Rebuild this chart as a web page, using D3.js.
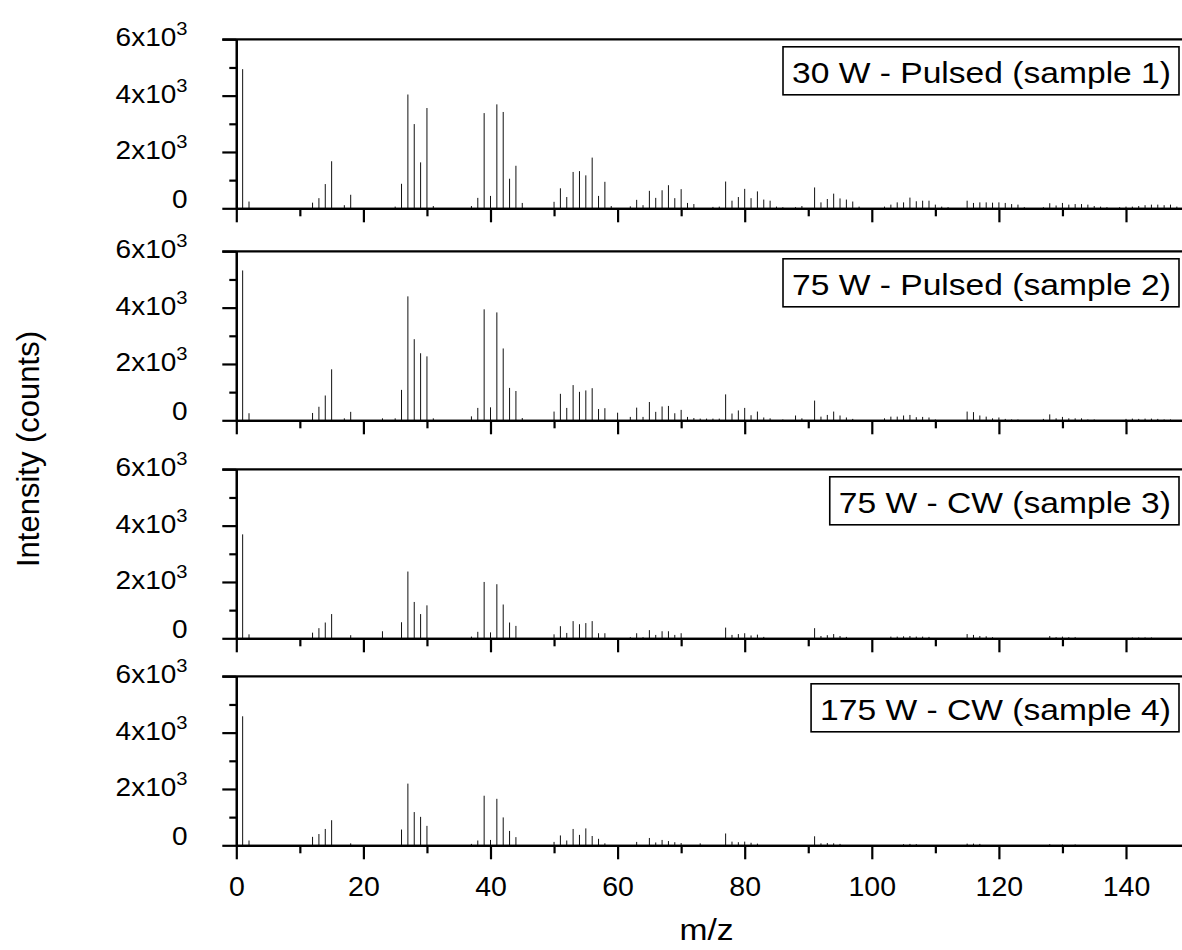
<!DOCTYPE html>
<html>
<head>
<meta charset="utf-8">
<script src="https://cdn.jsdelivr.net/npm/d3@7"></script>
<style>
  body { margin: 0; background: #fff; }
  svg { display: block; font-family: "Liberation Sans", Arial, sans-serif; }
</style>
</head>
<body>
<svg id="chart" width="1182" height="950"></svg>
<script>
// peak lists, [m/z, intensity in counts]
const sample1 = [[1,4940],[2,240],[12,200],[13,360],[14,860],[15,1670],[17,110],[18,480],[25,60],[26,870],[27,4040],[28,2990],[29,1630],[30,3560],[31,80],
  [37,80],[38,370],[39,3380],[40,440],[41,3690],[42,3420],[43,1050],[44,1510],[45,190],[50,230],[51,710],[52,400],[53,1290],[54,1320],[55,1170],[56,1800],[57,440],[58,940],[59,80],
  [62,70],[63,300],[64,110],[65,620],[66,370],[67,640],[68,820],[69,360],[70,680],[71,190],[72,150],[75,50],[76,60],[77,950],[78,270],[79,400],[80,690],[81,360],[82,600],[83,310],[84,270],[85,60],[86,40],
  [88,40],[89,80],[91,740],[92,210],[93,330],[94,520],[95,350],[96,310],[97,240],[98,60],[102,60],[103,130],[104,210],[105,210],[106,380],[107,250],[108,270],[109,270],[110,130],[111,60],[112,40],
  [115,270],[116,190],[117,210],[118,210],[119,200],[120,210],[121,190],[122,150],[123,130],[124,40],[127,40],[128,180],[129,100],[130,190],[131,130],[132,150],[133,150],[134,130],[135,80],[136,60],[137,40],
  [139,40],[140,60],[141,60],[142,80],[143,110],[144,130],[145,130],[146,110],[147,130],[148,60]];

const sample2 = [[1,5320],[2,250],[12,260],[13,480],[14,880],[15,1810],[17,70],[18,300],[23,70],[25,70],[26,1080],[27,4400],[28,2880],[29,2380],[30,2270],[31,70],
  [37,140],[38,440],[39,3940],[40,460],[41,3830],[42,2550],[43,1150],[44,1040],[45,80],[50,310],[51,940],[52,440],[53,1250],[54,1010],[55,1060],[56,1140],[57,400],[58,430],[60,270],
  [62,120],[63,450],[64,120],[65,650],[66,300],[67,490],[68,510],[69,250],[70,370],[71,120],[72,80],[73,60],[74,60],[75,60],[76,60],[77,920],[78,240],[79,350],[80,440],[81,180],[82,310],[83,100],[84,70],[86,30],
  [88,170],[89,70],[91,700],[92,130],[93,190],[94,310],[95,170],[96,100],[97,50],[102,70],[103,130],[104,130],[105,170],[106,190],[107,110],[108,120],[109,100],[110,30],
  [115,310],[116,290],[117,170],[118,130],[119,70],[120,100],[121,50],[122,30],[123,30],[127,50],[128,210],[129,70],[130,120],[131,70],[132,70],[133,70],[134,30],[135,30],
  [140,50],[141,60],[142,50],[143,60],[144,60],[145,50],[146,30],[147,30]];

const sample3 = [[1,3690],[2,140],[12,200],[13,360],[14,560],[15,860],[18,110],[23,250],[26,570],[27,2370],[28,1290],[29,860],[30,1170],
  [37,60],[38,230],[39,2000],[40,210],[41,1920],[42,1200],[43,560],[44,440],[50,140],[51,430],[52,190],[53,610],[54,500],[55,540],[56,610],[57,180],[58,180],
  [62,40],[63,180],[64,40],[65,290],[66,120],[67,250],[68,250],[69,120],[70,180],[77,380],[78,120],[79,150],[80,180],[81,100],[82,130],[83,50],
  [91,360],[92,80],[93,110],[94,150],[95,80],[96,50],[103,60],[104,60],[105,70],[106,80],[107,60],[108,60],[109,50],
  [115,150],[116,120],[117,80],[118,70],[119,40],[128,80],[129,40],[130,60],[131,40],[132,40],[141,30],[142,30],[143,30],[144,30]];

const sample4 = [[1,4580],[2,170],[12,300],[13,400],[14,580],[15,890],[18,70],[26,560],[27,2190],[28,1180],[29,1010],[30,690],
  [37,50],[38,170],[39,1760],[40,190],[41,1650],[42,990],[43,510],[44,290],[50,120],[51,350],[52,170],[53,580],[54,370],[55,600],[56,330],[57,230],[58,70],
  [63,120],[65,260],[66,100],[67,190],[68,150],[69,110],[70,80],[73,70],[77,420],[78,130],[79,110],[80,130],[81,90],[82,60],
  [91,320],[92,70],[93,80],[94,70],[95,50],[105,40],[106,50],[107,40],[115,60],[116,60],[117,50],[128,40],[130,30],[132,30]];

const spectra = [sample1, sample2, sample3, sample4];
const panelLabels = ['30 W - Pulsed (sample 1)', '75 W - Pulsed (sample 2)', '75 W - CW (sample 3)', '175 W - CW (sample 4)'];
const xMajorTicks = [0, 20, 40, 60, 80, 100, 120, 140];
const xMinorTicks = [10, 30, 50, 70, 90, 110, 130];
const yMajorTicks = [0, 2000, 4000, 6000];
const yMinorTicks = [1000, 3000, 5000];

const panelTops = [39.3, 251.3, 469.3, 676.3];
const panelHeight = 169;
const xLeft = 236.3;
const xRight = 1182;
const stretch = 1.12; // text in the original is a bit wider than plain Arial

const svg = d3.select('#chart');

const x = d3.scaleLinear()
    .domain([0, (xRight - xLeft) / 6.355])
    .range([xLeft, xRight]);

const drawPanel = (data, label, top, isLast) => {
  const y = d3.scaleLinear()
      .domain([0, 6000])
      .range([top + panelHeight, top]);

  const g = svg.append('g').attr('class', 'panel');

  // peaks
  g.append('g')
      .selectAll('line')
      .data(data)
      .join('line')
      .attr('x1', d => x(d[0]))
      .attr('x2', d => x(d[0]))
      .attr('y1', y(0))
      .attr('y2', d => y(d[1]))
      .attr('stroke', '#111')
      .attr('stroke-width', 1);

  // x axis, major and minor ticks
  const xMajor = d3.axisBottom(x).tickValues(xMajorTicks).tickSize(14).tickSizeOuter(0)
      .tickPadding(16).tickFormat(isLast ? d3.format('d') : '');
  const xMinor = d3.axisBottom(x).tickValues(xMinorTicks).tickSize(8).tickSizeOuter(0).tickFormat('');

  g.append('g').attr('class', 'x minor')
      .attr('transform', `translate(0,${y(0)})`)
      .call(xMinor);
  const gx = g.append('g').attr('class', 'x major')
      .attr('transform', `translate(0,${y(0)})`)
      .call(xMajor);
  gx.selectAll('text').attr('font-size', 28.5).attr('fill', '#000')
      .attr('font-family', '"Liberation Sans", Arial, sans-serif');

  // y axis
  const yMajor = d3.axisLeft(y).tickValues(yMajorTicks).tickSize(14).tickSizeOuter(0).tickFormat('');
  const yMinor = d3.axisLeft(y).tickValues(yMinorTicks).tickSize(7).tickSizeOuter(0).tickFormat('');
  g.append('g').attr('class', 'y minor')
      .attr('transform', `translate(${xLeft},0)`)
      .call(yMinor);
  g.append('g').attr('class', 'y major')
      .attr('transform', `translate(${xLeft},0)`)
      .call(yMajor);

  // tick labels of the form 2x10^3
  const labels = g.append('g').attr('class', 'y labels');
  yMajorTicks.forEach(v => {
    const t = labels.append('text')
        .attr('transform', `translate(187.5,${v === 0 ? y(v) : y(v) + 7}) scale(${stretch},1)`)
        .attr('text-anchor', 'end')
        .attr('font-size', 25);
    if (v === 0) {
      t.text('0');
    } else {
      t.append('tspan').text(`${v / 1000}x10`);
      t.append('tspan').attr('font-size', 18).attr('dy', -11).text('3');
    }
  });

  // top frame line
  g.append('line')
      .attr('x1', xLeft - 14).attr('x2', xRight)
      .attr('y1', top).attr('y2', top)
      .attr('stroke', '#000').attr('stroke-width', 2.2);

  svg.selectAll('.panel .domain').attr('stroke-width', 2.2);
  svg.selectAll('.panel .tick line').attr('stroke-width', 2.2);

  // sample label box
  const legend = g.append('g');
  const text = legend.append('text')
      .attr('transform', `translate(1171,${top + 44}) scale(${stretch},1)`)
      .attr('text-anchor', 'end')
      .attr('font-size', 30)
      .text(label);
  const w = text.node().getComputedTextLength() * stretch;
  legend.insert('rect', 'text')
      .attr('x', 1171 - w - 9)
      .attr('y', top + 7.5)
      .attr('width', w + 17)
      .attr('height', 48)
      .attr('fill', '#fff')
      .attr('stroke', '#000')
      .attr('stroke-width', 1.6);
};

spectra.forEach((data, i) => drawPanel(data, panelLabels[i], panelTops[i], i === spectra.length - 1));

svg.append('text')
    .attr('transform', `translate(${(x(0) + x(148)) / 2},940) scale(${stretch},1)`)
    .attr('text-anchor', 'middle')
    .attr('font-size', 30)
    .text('m/z');

svg.append('text')
    .attr('transform', 'translate(39,449) rotate(-90)')
    .attr('text-anchor', 'middle')
    .attr('font-size', 31)
    .text('Intensity (counts)');
</script>
</body>
</html>
